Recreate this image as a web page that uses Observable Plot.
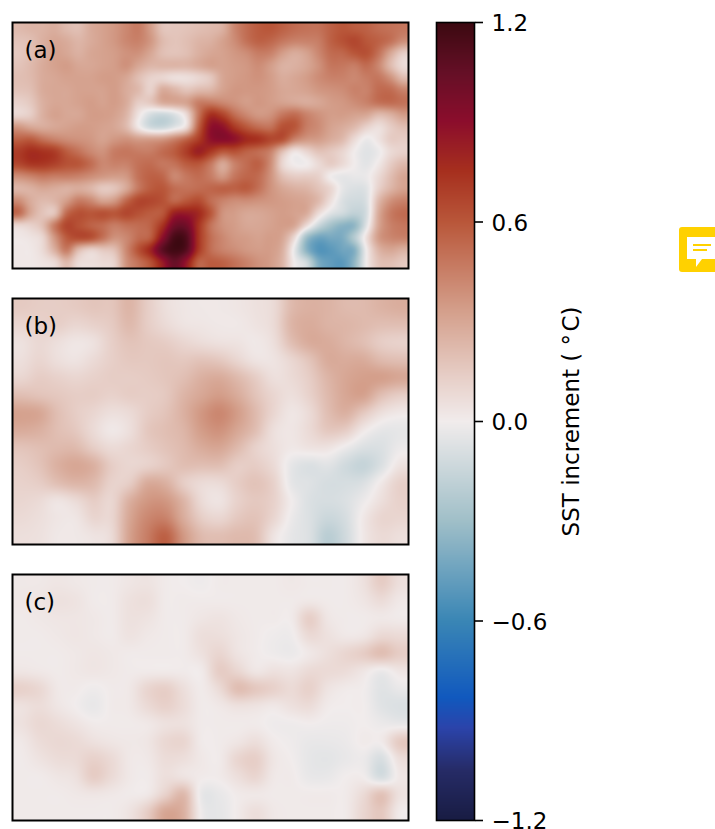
<!DOCTYPE html>
<html>
<head>
<meta charset="utf-8">
<script src="https://cdn.jsdelivr.net/npm/d3@7"></script>
<script src="https://cdn.jsdelivr.net/npm/@observablehq/plot@0.6"></script>
<style>
html,body{margin:0;padding:0;background:#fff;}
#fig{position:relative;width:715px;height:829px;overflow:hidden;font-family:"DejaVu Sans",sans-serif;}
#fig svg{position:absolute;overflow:visible;background:transparent;}
</style>
</head>
<body>
<div id="fig"></div>
<script>
// SST increment in hundredths of a degree, rows top to bottom
const panelA = [
[22,24,25,27,22,20,28,32,36,42,46,34,18,17,18,20,22,26,42,52,58,60,56,52,50,50,56,60,58,56,52,50,48],
[18,20,26,30,28,24,28,32,36,42,44,36,22,18,20,24,26,32,40,50,56,54,48,44,44,46,56,62,66,60,56,50,40],
[16,20,26,32,30,26,30,32,34,38,38,30,20,18,20,26,30,32,36,40,46,44,34,28,32,42,52,54,60,62,50,30,14],
[18,22,28,32,34,30,30,32,34,38,30,24,24,24,24,28,32,32,34,36,40,34,26,26,30,38,48,48,46,52,42,22,8],
[20,22,28,30,32,32,32,34,34,30,20,12,10,6,6,10,16,30,34,36,38,34,28,30,34,40,44,44,42,46,48,38,22],
[18,20,28,30,30,32,32,32,34,28,22,12,28,24,18,22,24,32,36,36,36,34,30,30,32,36,38,40,44,44,52,52,44],
[12,16,26,30,30,32,34,32,34,28,14,16,28,30,32,45,46,42,38,34,36,34,32,30,28,30,34,36,40,44,50,52,50],
[10,14,26,32,30,30,34,34,32,24,4,-10,-14,-8,8,48,75,68,52,42,36,38,48,52,44,38,34,34,32,30,22,26,34],
[36,30,28,30,32,34,34,32,30,22,2,-12,-14,-6,8,56,88,88,72,60,52,50,62,60,46,40,32,28,22,12,6,14,20],
[56,58,50,44,40,38,36,32,36,38,34,34,36,44,55,70,88,92,88,78,74,66,62,44,36,34,28,22,8,-2,4,14,14],
[70,76,74,70,58,50,42,38,46,48,46,46,52,58,70,82,72,60,62,56,52,44,20,4,10,18,16,10,0,-6,-2,8,12],
[66,72,72,68,62,60,52,42,44,44,50,52,48,50,58,60,48,30,44,52,56,40,10,0,0,8,14,8,0,-5,2,14,22],
[40,44,48,46,46,44,40,36,34,36,50,56,54,42,48,52,46,36,48,54,52,38,20,14,14,12,0,-4,-3,-2,8,20,30],
[24,26,30,28,26,28,24,16,18,30,48,58,60,52,50,52,54,56,56,58,50,38,30,26,24,18,10,-4,-8,-6,12,24,32],
[40,28,22,24,34,46,42,32,36,54,66,66,62,54,60,64,52,44,40,40,38,36,34,32,30,22,6,-8,-12,-8,22,38,44],
[52,30,18,18,52,62,60,62,60,66,62,58,60,82,84,78,60,38,34,30,30,32,34,32,28,8,-6,-12,-18,-10,28,46,52],
[10,12,20,46,66,62,56,52,46,50,52,56,74,100,100,74,50,38,34,30,30,32,34,30,8,-14,-28,-36,-34,-6,30,44,48],
[2,4,10,36,58,64,62,50,38,42,52,58,90,116,112,74,52,42,36,34,32,34,30,8,-30,-44,-42,-40,-22,6,34,42,44],
[2,2,8,26,46,22,12,16,20,42,62,80,108,118,110,72,52,44,40,36,34,34,26,-4,-36,-52,-50,-44,-38,0,24,30,26],
[2,2,4,8,22,8,6,8,12,38,50,62,84,104,86,56,58,56,50,44,38,34,24,0,-12,-40,-48,-50,-34,0,18,20,16]
];
const panelB = [
[15,14,14,15,17,17,24,14,6,3,2,2,3,5,8,22,26,25,22,22,25,27],
[10,12,13,10,12,15,22,14,8,4,3,2,2,4,8,24,28,25,24,22,20,20],
[5,9,6,3,5,13,18,16,14,10,7,5,4,2,6,20,28,28,24,20,14,12],
[6,10,6,4,8,13,16,16,17,16,18,16,10,4,4,10,18,28,28,28,22,20],
[10,14,12,10,12,14,14,15,17,20,26,28,22,14,6,8,14,24,30,33,33,30],
[20,18,16,14,14,12,14,14,16,24,30,34,28,18,10,6,12,22,30,32,20,14],
[32,30,20,14,10,6,8,14,18,26,36,42,34,22,10,3,8,20,26,16,6,2],
[28,26,20,16,8,2,6,16,20,24,34,38,30,20,6,3,8,16,14,2,-4,-4],
[18,20,22,22,14,8,10,14,18,22,28,30,22,12,6,2,4,4,-2,-8,-8,-2],
[14,18,26,30,26,14,10,12,16,20,20,20,14,14,8,-4,-8,-6,-12,-16,-8,4],
[12,14,20,24,22,12,14,28,26,14,8,8,14,18,12,-4,-7,-10,-10,-8,2,12],
[10,8,4,8,14,10,26,36,36,24,8,4,12,16,12,0,-8,-10,-8,-2,6,12],
[8,6,3,3,10,10,30,42,44,28,14,10,16,18,10,-2,-8,-14,-10,2,10,10],
[6,5,2,2,4,8,32,46,56,36,22,20,22,20,4,-4,-8,-20,-12,2,8,6]
];
const panelC = [
[2,2,3,2,1,1,3,4,1,0,-1,1,1,1,1,2,1,1,1,5,14,6],
[2,3,5,4,1,1,5,6,1,1,1,1,1,1,1,1,2,1,1,3,7,2],
[1,2,3,3,2,1,5,4,1,1,3,4,2,1,1,1,13,3,1,1,2,1],
[1,1,2,3,2,1,4,2,1,1,6,6,3,1,-1,-1,8,5,2,3,9,8],
[1,1,1,2,3,2,1,1,1,1,5,10,4,1,-1,-2,2,6,10,14,20,14],
[3,2,1,2,3,2,1,1,1,1,1,14,10,3,5,4,8,8,7,3,-2,3],
[12,9,2,1,-1,1,2,10,13,6,1,8,20,16,12,8,12,4,1,0,-6,-3],
[5,7,3,0,-3,1,2,8,12,7,1,2,5,4,2,5,7,1,0,0,-6,-8],
[5,9,7,4,1,1,1,2,5,5,1,1,1,1,-1,-1,0,-1,-1,0,-2,-3],
[2,7,9,8,5,3,2,3,9,10,1,1,3,6,1,-1,-3,-3,-2,1,1,15],
[1,4,7,8,12,8,2,2,7,6,2,1,10,13,3,0,-4,-5,-3,-2,-9,6],
[1,1,3,5,14,8,2,1,6,4,1,1,6,10,2,1,-3,-3,0,0,-10,2],
[1,1,1,2,3,2,1,2,12,22,-3,-3,1,2,1,1,1,1,1,8,18,5],
[1,1,1,1,1,1,4,14,30,26,-1,-4,1,6,2,1,1,1,1,10,16,1]
];
const panelLabels = ["(a)", "(b)", "(c)"];
const panelTops = [20, 296, 572];
const colorDomain = [-1.2,-1.05,-0.92,-0.83,-0.6,-0.3,0,0.132,0.334,0.6,0.755,0.905,1.05,1.2];
const colorRange = ["#181c43","#262b66","#2b44ab","#1159be","#3a86b5","#a0bfc8","#f1ecec","#e7cfc8","#d49f8b","#b9573a","#a62f1e","#8b0d2c","#650f26","#3c0911"];
const barTicks = [-1.2,-0.6,0,0.6,1.2];
const barLabel = "SST increment ( \u00B0\u200AC)";

const fig = document.getElementById("fig");
const colorScale = {type:"linear", domain:colorDomain, range:colorRange, clamp:true};
const fontStyle = {fontFamily:"'DejaVu Sans',sans-serif", fontSize:"23px", color:"#000", background:"transparent", overflow:"visible"};

// Catmull-Rom sampling of a grid whose cell centres lie at i + 0.5
function cubic(a, b, c, d, t) {
  return 0.5 * (2*b + (c-a)*t + (2*a-5*b+4*c-d)*t*t + (3*b-a-3*c+d)*t*t*t);
}
function sampler(grid) {
  const rows = grid.length, cols = grid[0].length;
  const at = (j, i) => grid[Math.max(0, Math.min(rows-1, j))][Math.max(0, Math.min(cols-1, i))];
  return (x, y) => {
    const u = x - 0.5, v = y - 0.5, i = Math.floor(u), j = Math.floor(v), tx = u-i, ty = v-j;
    const r = [-1,0,1,2].map(dj => cubic(at(j+dj,i-1), at(j+dj,i), at(j+dj,i+1), at(j+dj,i+2), tx));
    return cubic(r[0], r[1], r[2], r[3], ty) / 100;
  };
}

[panelA, panelB, panelC].forEach((grid, k) => {
  const rows = grid.length, cols = grid[0].length;
  const svg = Plot.plot({
    width:400, height:250, margin:2,
    style:fontStyle,
    x:{axis:null, domain:[0,cols]},
    y:{axis:null, domain:[0,rows], reverse:true},
    color:colorScale,
    marks:[
      Plot.raster({x1:0, x2:cols, y1:0, y2:rows, fill:sampler(grid), width:396, height:246}),
      Plot.frame({stroke:"#000", strokeWidth:2}),
      Plot.text([panelLabels[k]], {frameAnchor:"top-left", dx:12, dy:19, fontSize:23, fill:"#000"})
    ]
  });
  svg.style.left = "10px";
  svg.style.top = panelTops[k] + "px";
  fig.appendChild(svg);
});

const bar = Plot.plot({
  width:200, height:808, marginLeft:6, marginRight:156, marginTop:5, marginBottom:5,
  style:fontStyle,
  x:{axis:null, domain:[0,1]},
  y:{domain:[-1.2,1.2], axis:null},
  color:colorScale,
  marks:[
    Plot.raster({x1:0, x2:1, y1:-1.2, y2:1.2, fill:(x,y)=>y, width:38, height:798}),
    Plot.frame({stroke:"#000", strokeWidth:1.6}),
    Plot.axisY({anchor:"right", ticks:barTicks, tickSize:8, fill:"none", label:null, strokeWidth:1.6}),
    Plot.axisY({anchor:"right", ticks:barTicks, tickSize:0, tickPadding:17, dy:1.5, tickFormat:d3.format(".1f"), fontSize:23, label:null}),
    Plot.text([barLabel], {frameAnchor:"right", dx:97, rotate:-90, textAnchor:"middle", lineAnchor:"middle", fontSize:23, fill:"#000"})
  ]
});
bar.style.left = "430px";
bar.style.top = "17px";
fig.appendChild(bar);

fig.insertAdjacentHTML("beforeend",
 `<svg style="left:679px;top:227px" width="36" height="45" viewBox="0 0 36 45">
   <path d="M3 0H36V45H3a3 3 0 0 1-3-3V3a3 3 0 0 1 3-3z" fill="#ffd100"/>
   <path d="M8 10H36V32H23L17 40V32H8z" fill="#fff"/>
   <rect x="14" y="17" width="18" height="2" fill="#ffd100"/>
   <rect x="14" y="22" width="14" height="2" fill="#ffd100"/>
  </svg>`);
</script>
</body>
</html>
